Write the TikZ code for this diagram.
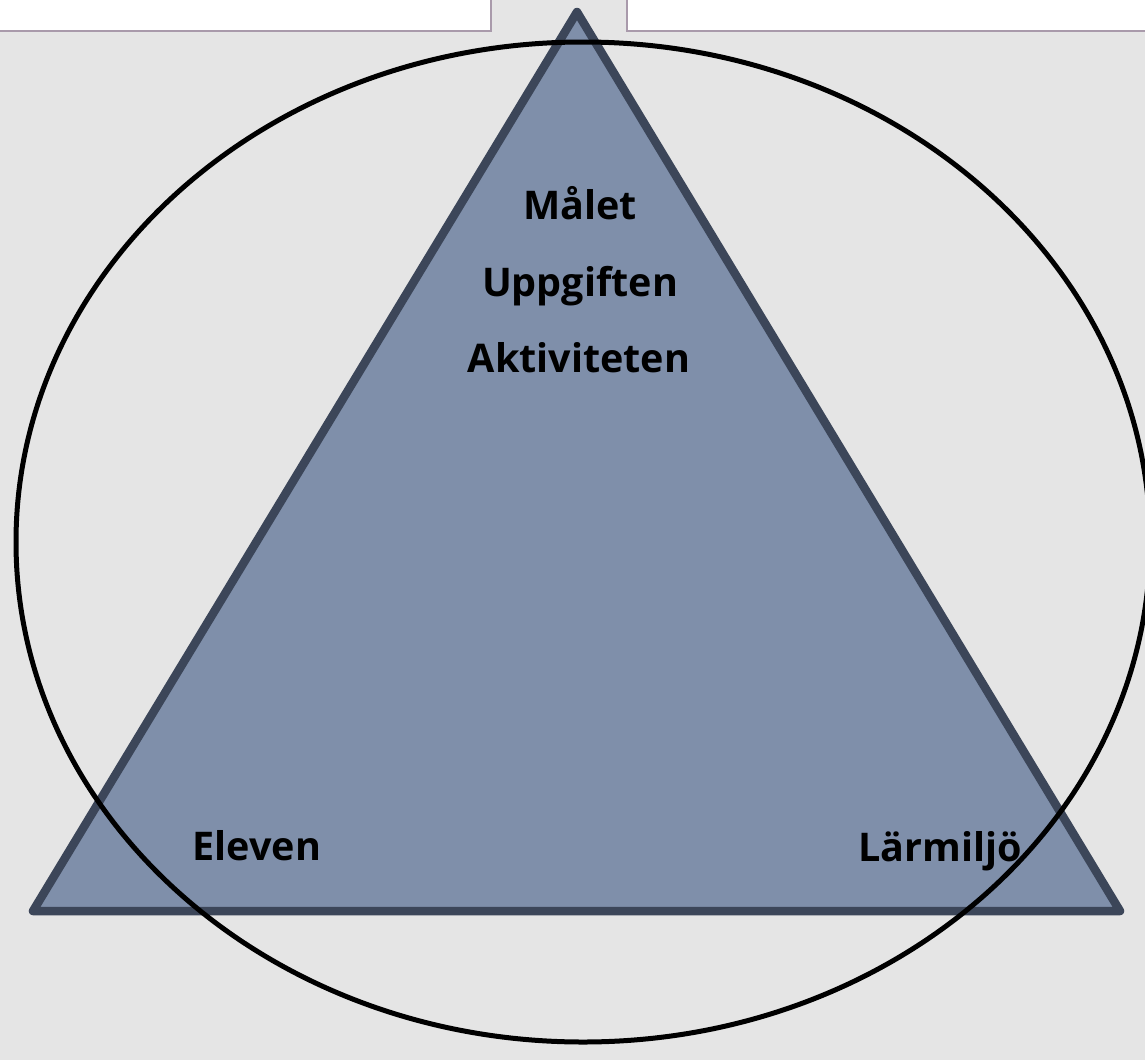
\documentclass[tikz,border=0pt]{standalone}
\usepackage{fontspec}
\setmainfont{Open Sans}
\usepackage{tikz}

\definecolor{bggray}{HTML}{E5E5E5}
\definecolor{trifill}{HTML}{7F8FAA}
\definecolor{triline}{HTML}{3C4659}
\definecolor{boxline}{HTML}{A99AAB}

\begin{document}
\begin{tikzpicture}
[x=1pt,y=-1pt]
\tikzset{lbl/.style={anchor=base,font=\fontsize{39.5}{47}\selectfont\bfseries,inner sep=0pt},
box/.style={draw=boxline,line width=2.5pt,fill=white}}
\useasboundingbox (0,0) rectangle (1145,1060);
\fill [bggray] (0,0) rectangle (1145,1060);

\draw [box] (-10,-10) rectangle (491,31);
\draw [box] (627,-10) rectangle (1160,31);

\coordinate (top) at (577,12);
\coordinate (left) at (33,911);
\coordinate (right) at (1120,911);
\draw [fill=trifill,draw=triline,line width=8.5pt,line join=round] (top) -- (left) -- (right) -- cycle;

\node [lbl] (malet) at (580,219) {Målet};
\node [lbl] (uppgiften) at (580,296) {Uppgiften};
\node [lbl] (aktiviteten) at (579,372) {Aktiviteten};
\node [lbl] (eleven) at (257,860) {Eleven};
\node [lbl] (larmiljo) at (940,861) {Lärmiljö};

\draw [line width=5pt] (583,542) ellipse [x radius=567,y radius=500];

\end{tikzpicture}
\end{document}
